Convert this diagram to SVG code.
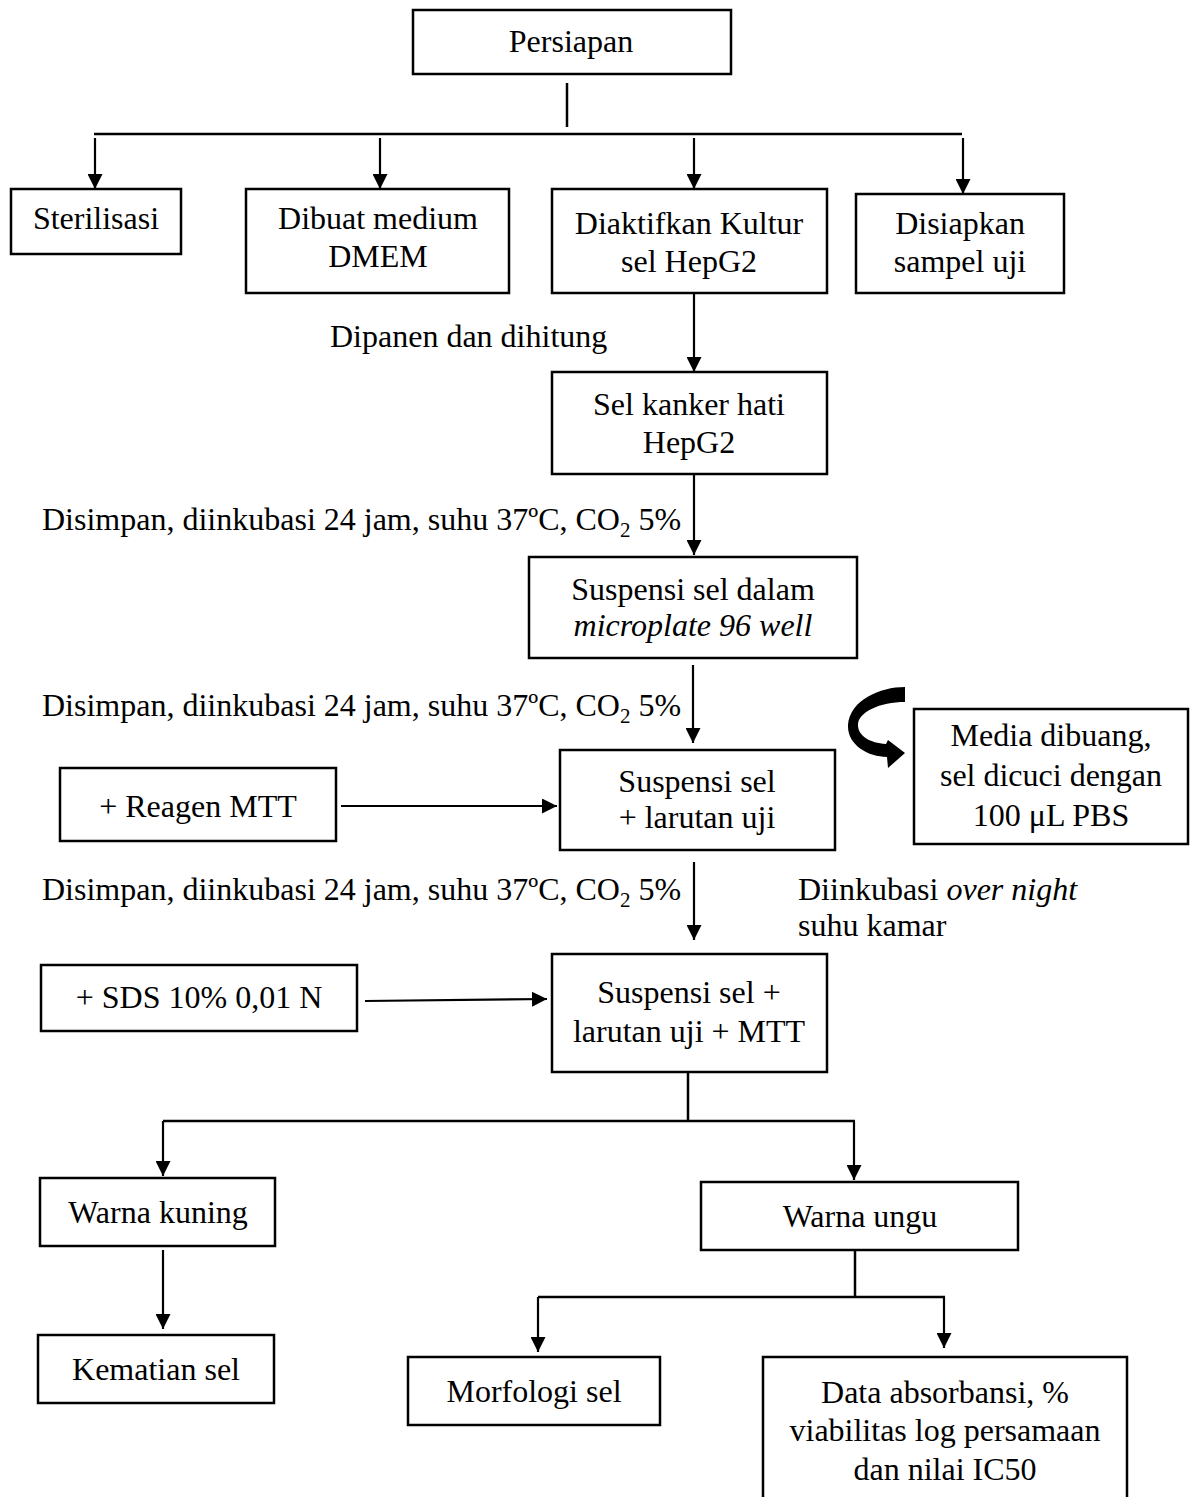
<svg xmlns="http://www.w3.org/2000/svg" width="1190" height="1497" viewBox="0 0 1190 1497">
<defs>
<style>
.box{fill:#fff;stroke:#000;stroke-width:2.5}
.t{font-family:"Liberation Serif","Times New Roman",serif;font-size:32px;fill:#000}
.c{text-anchor:middle}
.ln{fill:none;stroke:#000;stroke-width:2.5}
.ar{fill:none;stroke:#000;stroke-width:2.2;marker-end:url(#ah)}
</style>
<marker id="ah" markerUnits="userSpaceOnUse" markerWidth="16" markerHeight="15" refX="15" refY="7.5" orient="auto" viewBox="0 0 16 15">
<path d="M0,0 L15,7.5 L0,15 z" fill="#000"/>
</marker>
</defs>
<rect width="1190" height="1497" fill="#fff"/>

<g id="connectors">
<line class="ln" x1="567" y1="83" x2="567" y2="127"/>
<line class="ln" x1="94" y1="134" x2="962" y2="134"/>
<line class="ar" x1="95" y1="138" x2="95" y2="189"/>
<line class="ar" x1="380" y1="138" x2="380" y2="189"/>
<line class="ar" x1="694" y1="138" x2="694" y2="189"/>
<line class="ar" x1="963" y1="138" x2="963" y2="194"/>
<line class="ar" x1="694" y1="293" x2="694" y2="372"/>
<line class="ar" x1="694" y1="474" x2="694" y2="555"/>
<line class="ar" x1="693" y1="665" x2="693" y2="743"/>
<line class="ar" x1="341" y1="806" x2="557" y2="806"/>
<line class="ar" x1="694" y1="862" x2="694" y2="940"/>
<line class="ar" x1="365" y1="1001" x2="547" y2="999"/>
<line class="ln" x1="688" y1="1072" x2="688" y2="1121"/>
<line class="ln" x1="163" y1="1121" x2="855" y2="1121"/>
<line class="ar" x1="163" y1="1121" x2="163" y2="1176"/>
<line class="ar" x1="854" y1="1121" x2="854" y2="1180"/>
<line class="ar" x1="163" y1="1250" x2="163" y2="1329"/>
<line class="ln" x1="855" y1="1250" x2="855" y2="1297"/>
<line class="ln" x1="538" y1="1297" x2="945" y2="1297"/>
<line class="ar" x1="538" y1="1297" x2="538" y2="1352"/>
<line class="ar" x1="944" y1="1297" x2="944" y2="1348"/>
<path d="M905 687 C880 687 850 700 848 725 C847 745 868 757 887 757 L888 768 L905 753 L888 740 L886 744 C870 743 858 736 858 725 C858 712 880 702 905 702 Z" fill="#000"/>
</g>

<g id="n-persiapan"><rect class="box" x="413" y="10" width="318" height="64"/><text class="t c" x="571" y="52">Persiapan</text></g>
<g id="n-sterilisasi"><rect class="box" x="11" y="189" width="170" height="65"/><text class="t c" x="96" y="229">Sterilisasi</text></g>
<g id="n-dmem"><rect class="box" x="246" y="189" width="263" height="104"/><text class="t c" x="378" y="229">Dibuat medium</text><text class="t c" x="378" y="267">DMEM</text></g>
<g id="n-kultur"><rect class="box" x="552" y="189" width="275" height="104"/><text class="t c" x="689" y="234">Diaktifkan Kultur</text><text class="t c" x="689" y="272">sel HepG2</text></g>
<g id="n-sampel"><rect class="box" x="856" y="194" width="208" height="99"/><text class="t c" x="960" y="234">Disiapkan</text><text class="t c" x="960" y="272">sampel uji</text></g>

<g id="l-dipanen"><text class="t" x="330" y="347">Dipanen dan dihitung</text></g>
<g id="n-selkanker"><rect class="box" x="552" y="372" width="275" height="102"/><text class="t c" x="689" y="415">Sel kanker hati</text><text class="t c" x="689" y="453">HepG2</text></g>

<g id="l-inkubasi1"><text class="t" x="42" y="530">Disimpan, diinkubasi 24 jam, suhu 37ºC, CO<tspan font-size="21" dy="7">2</tspan><tspan dy="-7"> 5%</tspan></text></g>
<g id="n-microplate"><rect class="box" x="529" y="557" width="328" height="101"/><text class="t c" x="693" y="600">Suspensi sel dalam</text><text class="t c" x="693" y="636" font-style="italic">microplate 96 well</text></g>

<g id="l-inkubasi2"><text class="t" x="42" y="716">Disimpan, diinkubasi 24 jam, suhu 37ºC, CO<tspan font-size="21" dy="7">2</tspan><tspan dy="-7"> 5%</tspan></text></g>
<g id="n-reagen"><rect class="box" x="60" y="768" width="276" height="73"/><text class="t c" x="198" y="817">+ Reagen MTT</text></g>
<g id="n-larutan"><rect class="box" x="560" y="750" width="275" height="100"/><text class="t c" x="697" y="792">Suspensi sel</text><text class="t c" x="697" y="828">+ larutan uji</text></g>
<g id="n-media"><rect class="box" x="914" y="709" width="274" height="135"/><text class="t c" x="1051" y="746">Media dibuang,</text><text class="t c" x="1051" y="786">sel dicuci dengan</text><text class="t c" x="1051" y="826">100 μL PBS</text></g>

<g id="l-inkubasi3"><text class="t" x="42" y="900">Disimpan, diinkubasi 24 jam, suhu 37ºC, CO<tspan font-size="21" dy="7">2</tspan><tspan dy="-7"> 5%</tspan></text></g>
<g id="l-overnight"><text class="t" x="798" y="900">Diinkubasi <tspan font-style="italic">over night</tspan></text><text class="t" x="798" y="936">suhu kamar</text></g>
<g id="n-sds"><rect class="box" x="41" y="965" width="316" height="66"/><text class="t c" x="199" y="1008">+ SDS 10% 0,01 N</text></g>
<g id="n-mtt"><rect class="box" x="552" y="954" width="275" height="118"/><text class="t c" x="689" y="1003">Suspensi sel +</text><text class="t c" x="689" y="1042">larutan uji + MTT</text></g>

<g id="n-kuning"><rect class="box" x="40" y="1178" width="235" height="68"/><text class="t c" x="158" y="1223">Warna kuning</text></g>
<g id="n-ungu"><rect class="box" x="701" y="1182" width="317" height="68"/><text class="t c" x="860" y="1227">Warna ungu</text></g>
<g id="n-kematian"><rect class="box" x="38" y="1335" width="236" height="68"/><text class="t c" x="156" y="1380">Kematian sel</text></g>
<g id="n-morfologi"><rect class="box" x="408" y="1357" width="252" height="68"/><text class="t c" x="534" y="1402">Morfologi sel</text></g>
<g id="n-data"><rect class="box" x="763" y="1357" width="364" height="150"/><text class="t c" x="945" y="1403">Data absorbansi, %</text><text class="t c" x="945" y="1441">viabilitas log persamaan</text><text class="t c" x="945" y="1480">dan nilai IC50</text></g>
</svg>
